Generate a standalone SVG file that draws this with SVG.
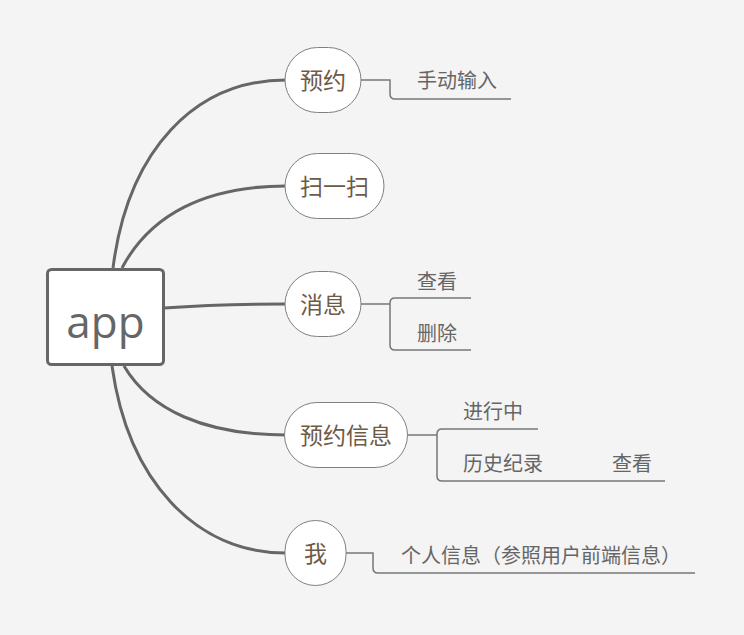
<svg xmlns="http://www.w3.org/2000/svg" width="744" height="635" viewBox="0 0 744 635">
  <style>
    .bg { fill: #f4f4f4; }
    .root { fill: #ffffff; stroke: #666666; stroke-width: 3; }
    .rootText { font-family: "Open Sans", "Noto Sans", sans-serif; font-size: 44px; fill: #666666; text-anchor: middle; }
    .topic { fill: #ffffff; stroke: #808080; stroke-width: 1; }
    .topicText { font-family: "Noto Sans CJK SC", sans-serif; font-size: 23px; fill: #6e5a46; text-anchor: middle; }
    .sub { font-family: "Noto Sans CJK SC", sans-serif; font-size: 20px; fill: #666666; }
    .main { fill: none; stroke: #666666; stroke-width: 3; }
    .branch { fill: none; stroke: #777777; stroke-width: 1.5; }
  </style>
  <rect class="bg" x="0" y="0" width="744" height="635"/>

  <g id="connectors">
    <!-- root to main topics -->
    <path class="main" d="M113,268 C128,150 195,80 286,80"/>
    <path class="main" d="M122,268 C150,215 205,186 286,186"/>
    <path class="main" d="M164,308 C205,305 240,304 286,304"/>
    <path class="main" d="M124,366 C150,410 205,435 286,435"/>
    <path class="main" d="M112,366 C128,480 195,553 286,553"/>
    <!-- 预约 -> 手动输入 -->
    <path class="branch" d="M361,80 H390 V94 Q390,99 395,99 H511"/>
    <!-- 消息 -> 查看 / 删除 -->
    <path class="branch" d="M361,304 H390"/>
    <path class="branch" d="M471,298 H395 Q390,298 390,303 V345 Q390,350 395,350 H471"/>
    <!-- 预约信息 -> 进行中 / 历史纪录 -> 查看 -->
    <path class="branch" d="M408,435 H437"/>
    <path class="branch" d="M538,429 H442 Q437,429 437,434 V476 Q437,481 442,481 H665"/>
    <!-- 我 -> 个人信息 -->
    <path class="branch" d="M346,553 H373 V568 Q373,573 378,573 H695"/>
  </g>

  <g id="node-app">
    <rect class="root" x="47.5" y="269.5" width="116" height="95" rx="4"/>
    <text class="rootText" x="105.5" y="338">app</text>
  </g>

  <g id="node-yuyue">
    <rect class="topic" x="285" y="47.5" width="76" height="65" rx="32.5"/>
    <text class="topicText" x="323" y="89">预约</text>
  </g>
  <g id="node-saoyisao">
    <rect class="topic" x="285" y="153.5" width="99" height="65" rx="32.5"/>
    <text class="topicText" x="334.5" y="195">扫一扫</text>
  </g>
  <g id="node-xiaoxi">
    <rect class="topic" x="285" y="271.5" width="76" height="65" rx="32.5"/>
    <text class="topicText" x="323" y="313">消息</text>
  </g>
  <g id="node-yuyuexinxi">
    <rect class="topic" x="284.5" y="402.5" width="123" height="65" rx="32.5"/>
    <text class="topicText" x="346" y="444">预约信息</text>
  </g>
  <g id="node-wo">
    <rect class="topic" x="285" y="520.5" width="61" height="65" rx="30.5"/>
    <text class="topicText" x="315.5" y="562">我</text>
  </g>

  <g id="node-shoudongshuru"><text class="sub" x="417" y="88">手动输入</text></g>
  <g id="node-chakan1"><text class="sub" x="417" y="289">查看</text></g>
  <g id="node-shanchu"><text class="sub" x="417" y="341">删除</text></g>
  <g id="node-jinxingzhong"><text class="sub" x="463" y="419">进行中</text></g>
  <g id="node-lishijilu"><text class="sub" x="463" y="471">历史纪录</text></g>
  <g id="node-chakan2"><text class="sub" x="612" y="471">查看</text></g>
  <g id="node-gerenxinxi"><text class="sub" x="401" y="563">个人信息（参照用户前端信息）</text></g>
</svg>
